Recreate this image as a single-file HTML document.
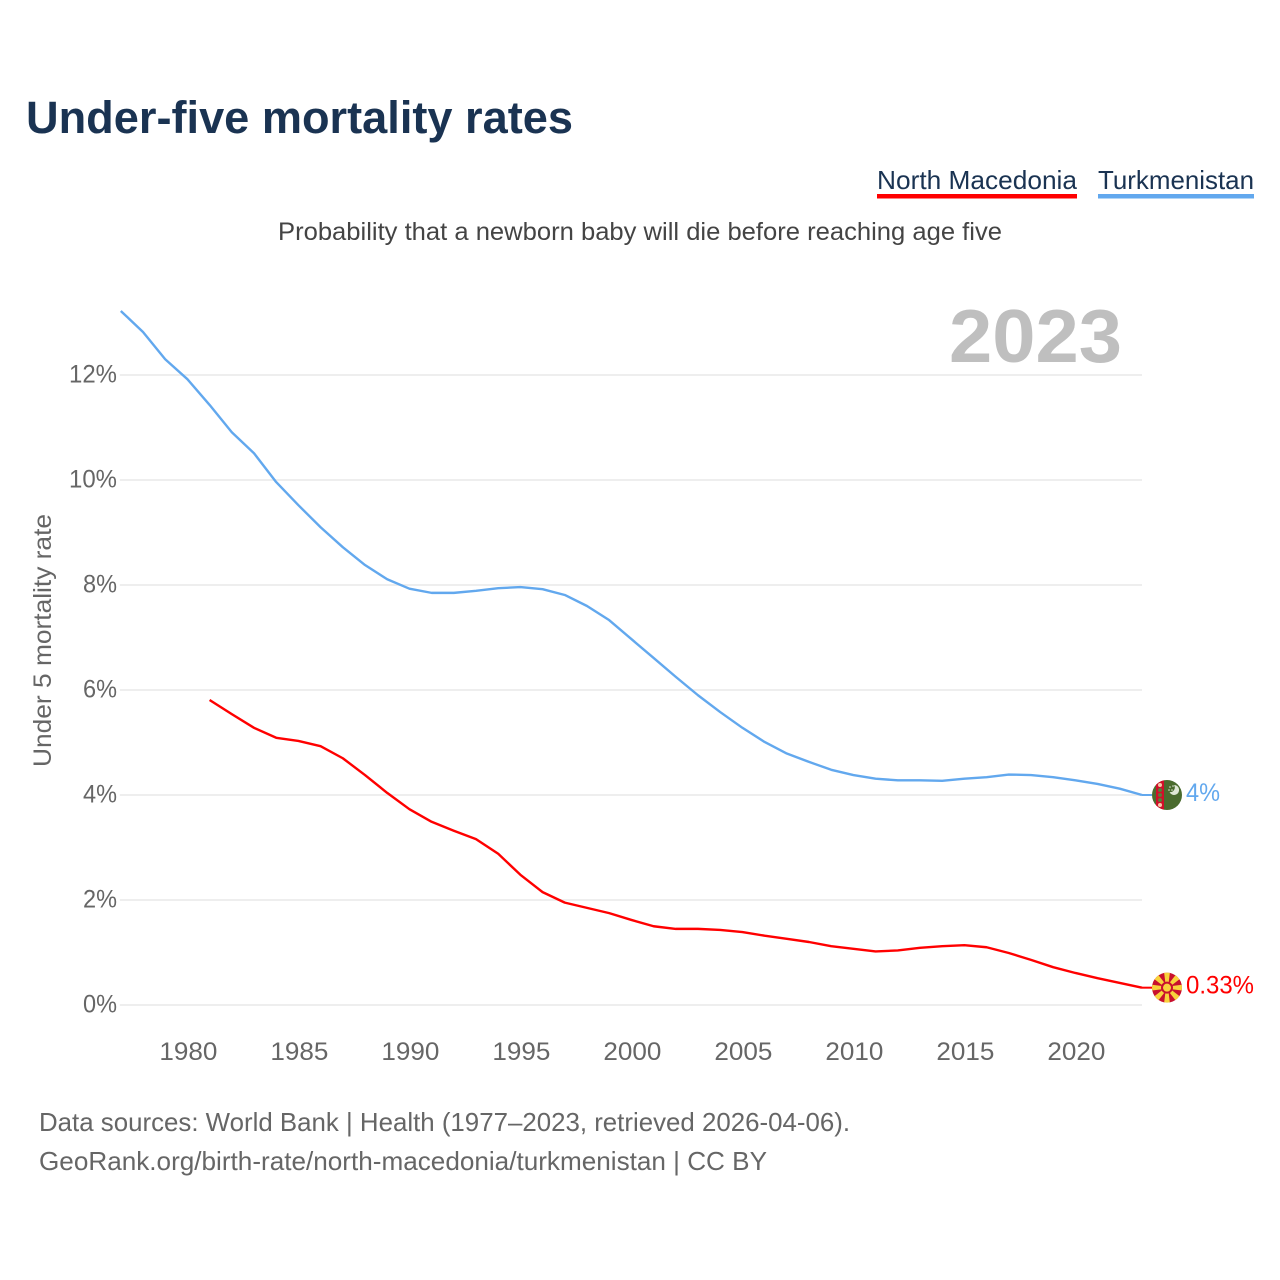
<!DOCTYPE html>
<html lang="en">
<head>
<meta charset="utf-8">
<title>Under-five mortality rates</title>
<style>
html,body{margin:0;padding:0;background:#fff;width:1280px;height:1280px;overflow:hidden}
svg{display:block}
text{font-family:"Liberation Sans",sans-serif}
</style>
</head>
<body>
<svg id="chart" width="1280" height="1280" viewBox="0 0 1280 1280" xmlns="http://www.w3.org/2000/svg">
<defs>
<clipPath id="flag-clip"><circle cx="0" cy="0" r="15"/></clipPath>
</defs>
<rect x="0" y="0" width="1280" height="1280" fill="#fff"/>
<text x="26" y="133" font-size="45" font-weight="700" fill="#1a3352" textLength="547" lengthAdjust="spacingAndGlyphs">Under-five mortality rates</text>
<text x="877" y="189" font-size="26" fill="#1a3352" textLength="200" lengthAdjust="spacingAndGlyphs">North Macedonia</text>
<rect x="877" y="194" width="200" height="4.5" fill="#ff0000"/>
<text x="1098" y="189" font-size="26" fill="#1a3352" textLength="156" lengthAdjust="spacingAndGlyphs">Turkmenistan</text>
<rect x="1098" y="194" width="156" height="4.5" fill="#62a8ee"/>
<text x="278" y="240" font-size="25" fill="#444" textLength="724" lengthAdjust="spacingAndGlyphs">Probability that a newborn baby will die before reaching age five</text>
<g id="grid"></g>
<text x="949" y="362" font-size="75" font-weight="700" fill="#bfbfbf" textLength="173" lengthAdjust="spacingAndGlyphs">2023</text>
<g id="y-ticks"></g>
<g id="x-ticks"></g>
<text transform="translate(51,640.5) rotate(-90)" text-anchor="middle" font-size="25" fill="#666" textLength="253" lengthAdjust="spacingAndGlyphs">Under 5 mortality rate</text>
<g id="series"></g>
<g id="markers"></g>
<text x="39" y="1131" font-size="26" fill="#666" textLength="811" lengthAdjust="spacingAndGlyphs">Data sources: World Bank | Health (1977–2023, retrieved 2026-04-06).</text>
<text x="39" y="1170" font-size="26" fill="#666" textLength="728" lengthAdjust="spacingAndGlyphs">GeoRank.org/birth-rate/north-macedonia/turkmenistan | CC BY</text>
</svg>
<script>
const yTickValues = [0, 2, 4, 6, 8, 10, 12];
const xTickYears = [1980, 1985, 1990, 1995, 2000, 2005, 2010, 2015, 2020];
const turkmenistanStart = 1977;
const turkmenistanValues = [13.22, 12.82, 12.3, 11.92, 11.43, 10.91, 10.51, 9.96, 9.52, 9.1, 8.72, 8.38, 8.11, 7.93, 7.85, 7.85, 7.89, 7.94, 7.96, 7.92, 7.81, 7.6, 7.33, 6.97, 6.61, 6.25, 5.9, 5.58, 5.28, 5.01, 4.79, 4.63, 4.48, 4.38, 4.31, 4.28, 4.28, 4.27, 4.31, 4.34, 4.39, 4.38, 4.34, 4.28, 4.21, 4.12, 4.0];
const macedoniaStart = 1981;
const macedoniaValues = [5.81, 5.54, 5.28, 5.09, 5.03, 4.93, 4.7, 4.38, 4.04, 3.73, 3.49, 3.32, 3.16, 2.88, 2.48, 2.15, 1.95, 1.85, 1.75, 1.62, 1.5, 1.45, 1.45, 1.43, 1.39, 1.32, 1.26, 1.2, 1.12, 1.07, 1.02, 1.04, 1.09, 1.12, 1.14, 1.1, 0.99, 0.86, 0.72, 0.61, 0.51, 0.42, 0.33];
const turkmenistanLabel = "4%";
const macedoniaLabel = "0.33%";

const NS = "http://www.w3.org/2000/svg";
const xScale = year => 187.4 + (year - 1980) * 22.2;
const yScale = value => 1005 - value * 52.5;
const plotLeft = xScale(1977);
const plotRight = xScale(2023);

function make(tag, attrs, parent, text) {
  const el = document.createElementNS(NS, tag);
  for (const k in attrs) el.setAttribute(k, attrs[k]);
  if (text !== undefined) el.textContent = text;
  parent.appendChild(el);
  return el;
}

const grid = document.getElementById("grid");
const yTicks = document.getElementById("y-ticks");
yTickValues.forEach(v => {
  const line = make("line", {x1: plotLeft - 1, x2: plotRight, y1: yScale(v), y2: yScale(v), stroke: "#eeeeee", "stroke-width": 2}, grid);
  
  
  const label = v + "%";
  const t = make("text", {x: 117, y: yScale(v) + 7.5, "text-anchor": "end", "font-size": 25, fill: "#666", textLength: label.length === 3 ? 48 : 34, lengthAdjust: "spacingAndGlyphs"}, yTicks, label);
  
  
});

const xTicks = document.getElementById("x-ticks");
xTickYears.forEach(year => {
  const t = make("text", {x: xScale(year) + 1, y: 1060, "text-anchor": "middle", "font-size": 25, fill: "#666", textLength: 58, lengthAdjust: "spacingAndGlyphs"}, xTicks, String(year));
  
  
});

function pathFor(start, values) {
  return values.map((v, i) => (i ? "L" : "M") + xScale(start + i).toFixed(2) + " " + yScale(v).toFixed(2)).join(" ");
}

const series = document.getElementById("series");
const turkmenLine = make("path", {d: pathFor(turkmenistanStart, turkmenistanValues), fill: "none", stroke: "#62a8ee", "stroke-width": 2.4, "stroke-linejoin": "round"}, series);


const macedoniaLine = make("path", {d: pathFor(macedoniaStart, macedoniaValues), fill: "none", stroke: "#ff0000", "stroke-width": 2.4, "stroke-linejoin": "round"}, series);



const markers = document.getElementById("markers");
const flagX = 1167;

/* Turkmenistan end marker */
const tmY = yScale(turkmenistanValues[turkmenistanValues.length - 1]);
const tmStub = make("line", {x1: plotRight, x2: flagX - 15, y1: tmY, y2: tmY, stroke: "#62a8ee", "stroke-width": 2}, markers);


const tmFlag = make("g", {transform: "translate(" + flagX + "," + tmY + ")", "clip-path": "url(#flag-clip)"}, markers);


make("rect", {x: -15, y: -15, width: 30, height: 30, fill: "#4a6b2e"}, tmFlag);
make("rect", {x: -11, y: -15, width: 8, height: 30, fill: "#d0102a"}, tmFlag);
[-10, -5, 0, 5, 10].forEach(o => {
  make("circle", {cx: -7, cy: o, r: 2, fill: o === -10 || o === 10 ? "#f4c9a8" : "#5d7a3a"}, tmFlag);
});
make("path", {d: "M4 -10 A5 5 0 1 1 -0.5 -3 A4.5 4.5 0 0 0 4 -10Z", fill: "#dfe7d5", transform: "translate(3,0)"}, tmFlag);
[[0, -9], [3, -10], [-1, -6], [2, -6]].forEach(p => {
  make("circle", {cx: p[0] + 3, cy: p[1] + 1, r: 0.8, fill: "#dfe7d5"}, tmFlag);
});
const tmText = make("text", {x: 1186, y: tmY + 6, "font-size": 25, fill: "#62a8ee", textLength: 34, lengthAdjust: "spacingAndGlyphs"}, markers, turkmenistanLabel);



/* North Macedonia end marker */
const mkY = yScale(macedoniaValues[macedoniaValues.length - 1]);
const mkStub = make("line", {x1: plotRight, x2: flagX - 15, y1: mkY, y2: mkY, stroke: "#ff0000", "stroke-width": 2}, markers);


const mkFlag = make("g", {transform: "translate(" + flagX + "," + mkY + ")", "clip-path": "url(#flag-clip)"}, markers);


make("rect", {x: -15, y: -15, width: 30, height: 30, fill: "#c8102e"}, mkFlag);
[0, 45, 90, 135, 180, 225, 270, 315].forEach(angle => {
  make("path", {d: "M-1 0 L1 0 L3 -16 L-3 -16 Z", fill: "#f8d23c", transform: "rotate(" + angle + ")"}, mkFlag);
});
make("circle", {cx: 0, cy: 0, r: 6, fill: "#c8102e"}, mkFlag);
make("circle", {cx: 0, cy: 0, r: 4, fill: "#f8d23c"}, mkFlag);
const mkText = make("text", {x: 1186, y: mkY + 6, "font-size": 25, fill: "#ff0000", textLength: 68, lengthAdjust: "spacingAndGlyphs"}, markers, macedoniaLabel);


</script>
</body>
</html>
